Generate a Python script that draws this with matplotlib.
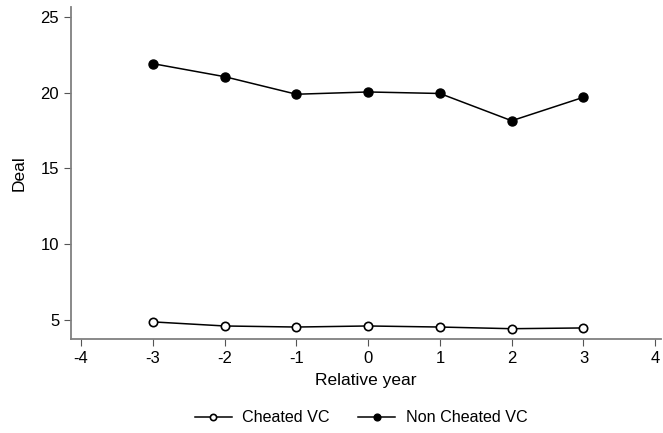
import matplotlib
matplotlib.use("Agg")
import matplotlib.pyplot as plt

plt.rcParams['font.family'] = ['Liberation Sans', 'DejaVu Sans']

years = [-3, -2, -1, 0, 1, 2, 3]
cheated = [4.87, 4.60, 4.53, 4.60, 4.53, 4.42, 4.47]
non_cheated = [21.92, 21.06, 19.90, 20.05, 19.95, 18.15, 19.70]
xticks = [-4, -3, -2, -1, 0, 1, 2, 3, 4]
yticks = [5, 10, 15, 20, 25]

fig = plt.figure(figsize=(6.63, 4.33), dpi=100)
ax = fig.add_axes([71 / 663, 94 / 433, 590 / 663, 332 / 433])

ax.plot(years, cheated, color='black', lw=1.1, marker='o', ms=6,
        mfc='white', mec='black', mew=1.2, label='Cheated VC')
ax.plot(years, non_cheated, color='black', lw=1.1, marker='o', ms=6.5,
        mfc='black', mec='black', label='Non Cheated VC')

ax.set_xlim(-4.14, 4.08)
ax.set_ylim(3.74, 25.66)
ax.set_xticks(xticks)
ax.set_yticks(yticks)
ax.set_xticklabels([str(t) for t in xticks])
ax.tick_params(axis='both', labelsize=12, color='#555555', length=5)

for side in ['top', 'right']:
    ax.spines[side].set_visible(False)
for side in ['left', 'bottom']:
    ax.spines[side].set_color('#808080')
    ax.spines[side].set_linewidth(1.3)

ax.set_xlabel('Relative year', fontsize=12.5, labelpad=5)
ax.set_ylabel('Deal', fontsize=12.5, labelpad=10)

fig.legend(loc='center', bbox_to_anchor=(361 / 663, 1 - 418 / 433), ncol=2,
           frameon=False, fontsize=11.6, handlelength=2.3, handletextpad=0.65,
           columnspacing=1.75, markerscale=0.75)

fig.savefig('out.png', dpi=100)
